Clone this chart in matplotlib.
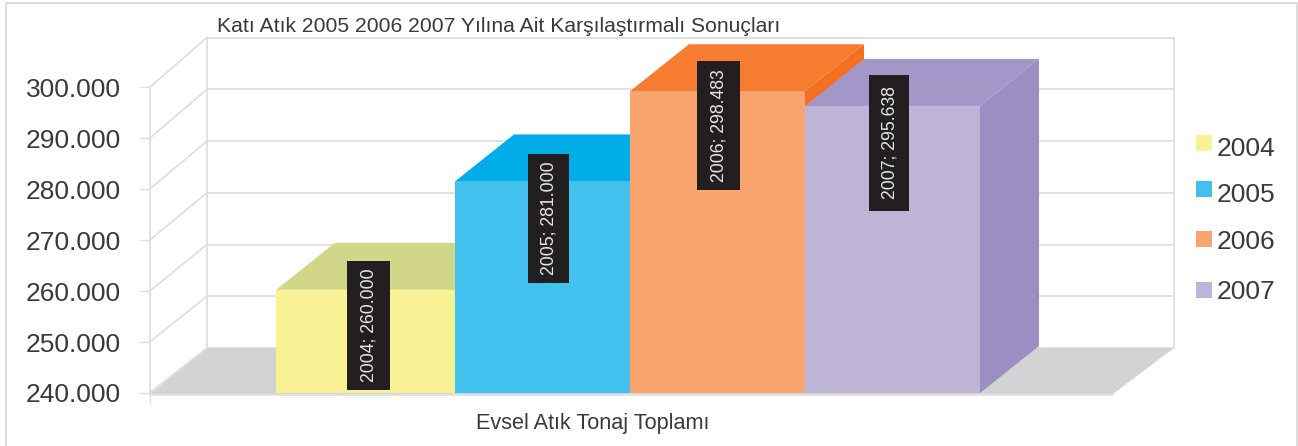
import matplotlib
matplotlib.use('Agg')
import matplotlib.pyplot as plt
from matplotlib.patches import Polygon, Rectangle

W = 1298
H = 446

years = ['2004', '2005', '2006', '2007']
values = [260000, 281000, 298483, 295638]
value_labels = ['2004; 260.000', '2005; 281.000', '2006; 298.483', '2007; 295.638']
tick_values = [240000, 250000, 260000, 270000, 280000, 290000, 300000]
tick_labels = ['240.000', '250.000', '260.000', '270.000', '280.000', '290.000', '300.000']

front_colors = ['#F8F295', '#42C0EE', '#FAA46F', '#BEB4D8']
top_colors = ['#D2D688', '#00ADE7', '#F67C30', '#A397C8']
side_colors = ['#D2D688', '#00ADE7', '#F37021', '#9C8DC2']

# layout, in pixels of the picture
bar_edges = [276, 455, 630, 805, 980]
depth_x = 59
depth_y = 47
base_y = 393
px_per_unit = 5.16 / 1000
box_x = [347, 528, 697, 869]
box_w = [43, 41, 43, 40]
box_top = [261, 154, 61, 75]
box_bottom = [390, 283, 190, 211]
legend_box_y = [135, 181, 231, 282]
legend_text_y = [149, 195, 242, 292]

GRID = '#DCDDDE'
TEXT = '#3A3A3A'

plt.rcParams['font.family'] = ['Liberation Sans', 'DejaVu Sans']


def add_axes_px(fig, x0, y0, x1, y1, **kw):
    # y0 is the top edge, y1 the bottom edge, counted from the top of the picture
    return fig.add_axes([x0 / W, 1 - y1 / H, (x1 - x0) / W, (y1 - y0) / H], **kw)


fig = plt.figure(figsize=(W / 100, H / 100), dpi=100, facecolor='white')

# whole picture in pixels, for the frame, the floor and the legend
ax = add_axes_px(fig, 0, 0, W, H)
ax.set_xlim(0, W)
ax.set_ylim(H, 0)
ax.axis('off')
ax.add_patch(Rectangle((6, 3), 1291, 460, fc='white', ec=GRID, lw=1.5))
ax.add_patch(Polygon([(150, 394), (207, 348), (1174, 348), (1113, 394)], fc='#D1D3D4', ec='none'))
ax.plot([150, 1113], [394.5, 394.5], color=GRID, lw=1.2)
ax.plot([149.5, 149.5], [394, 402], color=GRID, lw=1)

# side wall lines, from the front ticks to the back wall
for t in tick_values:
    f = (t - tick_values[0]) / (tick_values[-1] - tick_values[0])
    ax.plot([149.5, 207], [393 - f * 305.5, 348 - f * 310.5], color=GRID, lw=1.2)

for y, y_txt, year, c in zip(legend_box_y, legend_text_y, years, front_colors):
    ax.add_patch(Rectangle((1196, y), 16, 16, fc=c, ec='none'))
    ax.text(1217, y_txt, year, fontsize=19, color=TEXT, va='center', ha='left')

ax.text(217, 26, 'Katı Atık 2005 2006 2007 Yılına Ait Karşılaştırmalı Sonuçları',
        fontsize=15.2, color=TEXT, va='center', ha='left')
ax.text(593, 423, 'Evsel Atık Tonaj Toplamı', fontsize=15.6, color=TEXT, va='center', ha='center')

# back wall with its grid lines
ax_back = add_axes_px(fig, 207, 37.5, 1174, 348)
ax_back.patch.set_alpha(0)
ax_back.set_ylim(tick_values[0], tick_values[-1])
ax_back.set_yticks(tick_values)
ax_back.set_xticks([])
ax_back.tick_params(left=False, labelleft=False)
ax_back.grid(True, axis='y', color=GRID, lw=1.2)
for s in ax_back.spines.values():
    s.set_color(GRID)
    s.set_linewidth(1.2)
ax_back.spines['bottom'].set_visible(False)

# front edge of the side wall holds the value ticks
ax_wall = add_axes_px(fig, 149.5, 87.5, 207, 393)
ax_wall.patch.set_alpha(0)
ax_wall.set_ylim(tick_values[0], tick_values[-1])
ax_wall.set_yticks(tick_values)
ax_wall.set_yticklabels(tick_labels, fontsize=19, color=TEXT)
ax_wall.set_xticks([])
ax_wall.tick_params(axis='y', length=7.5, width=1, color=GRID, pad=13)
for name, s in ax_wall.spines.items():
    s.set_visible(name == 'left')
    s.set_color(GRID)
    s.set_linewidth(1.2)

# bars on their own value scale
ax_bars = add_axes_px(fig, 0, 0, W, H)
ax_bars.patch.set_alpha(0)
ax_bars.axis('off')
ax_bars.set_xlim(0, W)
ax_bars.set_ylim(tick_values[0] - (H - base_y) / px_per_unit, tick_values[0] + base_y / px_per_unit)
dy = depth_y / px_per_unit

for i, v in enumerate(values):
    x0 = bar_edges[i]
    x1 = bar_edges[i + 1]
    bottom = tick_values[0]
    ax_bars.add_patch(Polygon([(x0, v), (x0 + depth_x, v + dy), (x1 + depth_x, v + dy), (x1, v)],
                              fc=top_colors[i], ec='none'))
    ax_bars.add_patch(Polygon([(x1, bottom), (x1 + depth_x, bottom + dy), (x1 + depth_x, v + dy), (x1, v)],
                              fc=side_colors[i], ec='none'))
    ax_bars.bar(x0, v - bottom, bottom=bottom, width=x1 - x0, align='edge', color=front_colors[i])

# value labels on dark boxes, back on the pixel grid
ax_lab = add_axes_px(fig, 0, 0, W, H)
ax_lab.patch.set_alpha(0)
ax_lab.axis('off')
ax_lab.set_xlim(0, W)
ax_lab.set_ylim(H, 0)
for i, lab in enumerate(value_labels):
    ax_lab.add_patch(Rectangle((box_x[i], box_top[i]), box_w[i], box_bottom[i] - box_top[i],
                               fc='#231F20', ec='none'))
    ax_lab.text(box_x[i] + box_w[i] / 2 + 1, (box_top[i] + box_bottom[i]) / 2, lab, rotation=90,
                fontsize=12.7, color='#E6E7E8', ha='center', va='center')

fig.savefig('out.png', dpi=100)
